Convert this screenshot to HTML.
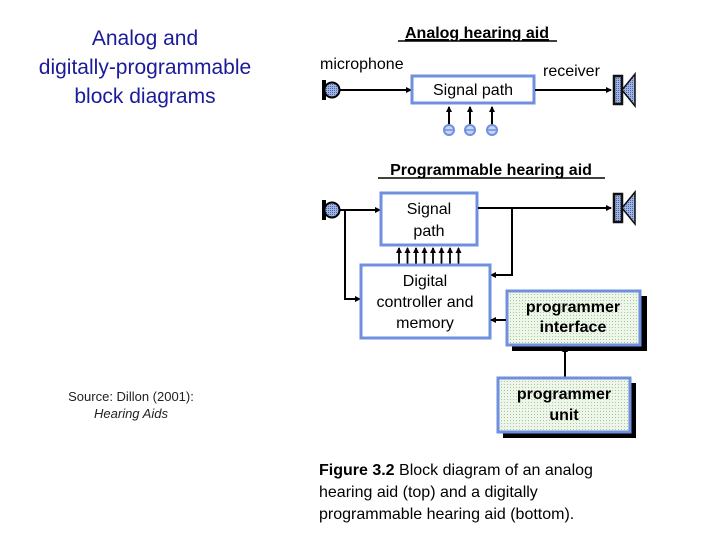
<!DOCTYPE html>
<html><head><meta charset="utf-8"><style>
body{margin:0;width:720px;height:540px;background:#fff;overflow:hidden}
svg{display:block}
text{font-family:"Liberation Sans",Arial,sans-serif}
</style></head><body>
<svg width="720" height="540" viewBox="0 0 720 540" xmlns="http://www.w3.org/2000/svg">
<defs>
<pattern id="dots" width="3" height="3" patternUnits="userSpaceOnUse"><rect width="3" height="3" fill="#eef6ea"/><rect width="1" height="1" fill="#a8c8a0"/></pattern>
<pattern id="bd" width="2" height="2" patternUnits="userSpaceOnUse"><rect width="2" height="2" fill="#9fb4e0"/><rect width="1" height="1" fill="#4a64b0"/></pattern>
<marker id="ah" markerWidth="6" markerHeight="6" refX="5" refY="3" orient="auto" markerUnits="userSpaceOnUse"><path d="M0,0 L6,3 L0,6 z" fill="#000"/></marker>
<g id="mic"><rect x="0" y="-10" width="4" height="20" fill="#000"/><circle cx="10" cy="0" r="7.5" fill="url(#bd)" stroke="#000" stroke-width="2"/></g>
<g id="spk"><rect x="0" y="-14" width="8" height="28" fill="url(#bd)" stroke="#111" stroke-width="2.5"/><path d="M8,0 L21,-16 L21,16 z" fill="url(#bd)" stroke="#111" stroke-width="1.5"/></g>
</defs>

<text x="145" y="45" text-anchor="middle" font-size="21" fill="#1a1a9a">Analog and</text>
<text x="145" y="74" text-anchor="middle" font-size="21" fill="#1a1a9a">digitally-programmable</text>
<text x="145" y="103" text-anchor="middle" font-size="21" fill="#1a1a9a">block diagrams</text>

<text x="131" y="401" text-anchor="middle" font-size="13" fill="#222">Source:  Dillon (2001):</text>
<text x="131" y="418" text-anchor="middle" font-size="13" fill="#222" font-style="italic">Hearing Aids</text>

<!-- Analog -->
<text x="477" y="38" text-anchor="middle" font-size="16" font-weight="bold" text-decoration="underline">Analog hearing aid</text>
<line x1="398" y1="41" x2="557" y2="41" stroke="#000" stroke-width="1.5"/>
<text x="320" y="69" font-size="16">microphone</text>
<text x="543" y="76" font-size="16">receiver</text>
<use href="#mic" x="322" y="90"/>
<line x1="340" y1="90" x2="411" y2="90" stroke="#000" stroke-width="2" marker-end="url(#ah)"/>
<rect x="412" y="76" width="122" height="27" fill="#fff" stroke="#6f8fdf" stroke-width="3"/>
<text x="473" y="95" text-anchor="middle" font-size="16">Signal path</text>
<line x1="535" y1="90" x2="611" y2="90" stroke="#000" stroke-width="2" marker-end="url(#ah)"/>
<use href="#spk" x="614" y="90"/>
<g stroke="#000" stroke-width="2">
<line x1="449" y1="125" x2="449" y2="107" marker-end="url(#ah)"/>
<line x1="470" y1="125" x2="470" y2="107" marker-end="url(#ah)"/>
<line x1="492" y1="125" x2="492" y2="107" marker-end="url(#ah)"/>
</g>
<g fill="#c8d4f4" stroke="#6f8fdf" stroke-width="2">
<circle cx="449" cy="130" r="5"/><circle cx="470" cy="130" r="5"/><circle cx="492" cy="130" r="5"/>
</g>
<g stroke="#6f8fdf" stroke-width="1.5"><line x1="445" y1="130" x2="453" y2="130"/><line x1="466" y1="130" x2="474" y2="130"/><line x1="488" y1="130" x2="496" y2="130"/></g>

<!-- Programmable -->
<text x="491" y="175" text-anchor="middle" font-size="16" font-weight="bold">Programmable hearing aid</text>
<line x1="378" y1="178" x2="605" y2="178" stroke="#000" stroke-width="1.5"/>
<use href="#mic" x="322" y="210"/>
<line x1="340" y1="210" x2="380" y2="210" stroke="#000" stroke-width="2" marker-end="url(#ah)"/>
<polyline points="345,210 345,299 360,299" fill="none" stroke="#000" stroke-width="2" marker-end="url(#ah)"/>
<rect x="381" y="193" width="96" height="52" fill="#fff" stroke="#6f8fdf" stroke-width="3"/>
<text x="429" y="214" text-anchor="middle" font-size="16">Signal</text>
<text x="429" y="236" text-anchor="middle" font-size="16">path</text>
<line x1="478" y1="208" x2="611" y2="208" stroke="#000" stroke-width="2" marker-end="url(#ah)"/>
<polyline points="512,208 512,275 491,275" fill="none" stroke="#000" stroke-width="2" marker-end="url(#ah)"/>
<use href="#spk" x="614" y="208"/>
<g stroke="#000" stroke-width="1.8">
<line x1="399" y1="264" x2="399" y2="248" marker-end="url(#ah)"/>
<line x1="407.5" y1="264" x2="407.5" y2="248" marker-end="url(#ah)"/>
<line x1="416" y1="264" x2="416" y2="248" marker-end="url(#ah)"/>
<line x1="424.5" y1="264" x2="424.5" y2="248" marker-end="url(#ah)"/>
<line x1="433" y1="264" x2="433" y2="248" marker-end="url(#ah)"/>
<line x1="441.5" y1="264" x2="441.5" y2="248" marker-end="url(#ah)"/>
<line x1="450" y1="264" x2="450" y2="248" marker-end="url(#ah)"/>
<line x1="458.5" y1="264" x2="458.5" y2="248" marker-end="url(#ah)"/>
</g>
<rect x="361" y="265" width="129" height="73" fill="#fff" stroke="#6f8fdf" stroke-width="3"/>
<text x="425" y="286" text-anchor="middle" font-size="16">Digital</text>
<text x="425" y="307" text-anchor="middle" font-size="16">controller and</text>
<text x="425" y="328" text-anchor="middle" font-size="16">memory</text>

<rect x="512" y="296" width="135" height="55" fill="#000"/>
<rect x="507" y="291" width="133" height="54" fill="url(#dots)" stroke="#6f8fdf" stroke-width="3"/>
<text x="573" y="312" text-anchor="middle" font-size="16" font-weight="bold">programmer</text>
<text x="573" y="332" text-anchor="middle" font-size="16" font-weight="bold">interface</text>
<line x1="506" y1="320" x2="491" y2="320" stroke="#000" stroke-width="2" marker-end="url(#ah)"/>
<line x1="565" y1="377" x2="565" y2="347" stroke="#000" stroke-width="2" marker-end="url(#ah)"/>
<rect x="503" y="383" width="133" height="55" fill="#000"/>
<rect x="498" y="378" width="132" height="54" fill="url(#dots)" stroke="#6f8fdf" stroke-width="3"/>
<text x="564" y="399" text-anchor="middle" font-size="16" font-weight="bold">programmer</text>
<text x="564" y="420" text-anchor="middle" font-size="16" font-weight="bold">unit</text>

<text x="319" y="475" font-size="16"><tspan font-weight="bold">Figure 3.2</tspan>  Block diagram of an analog</text>
<text x="319" y="497" font-size="16">hearing aid (top)  and a digitally</text>
<text x="319" y="519" font-size="16">programmable hearing aid (bottom).</text>
</svg>
</body></html>
